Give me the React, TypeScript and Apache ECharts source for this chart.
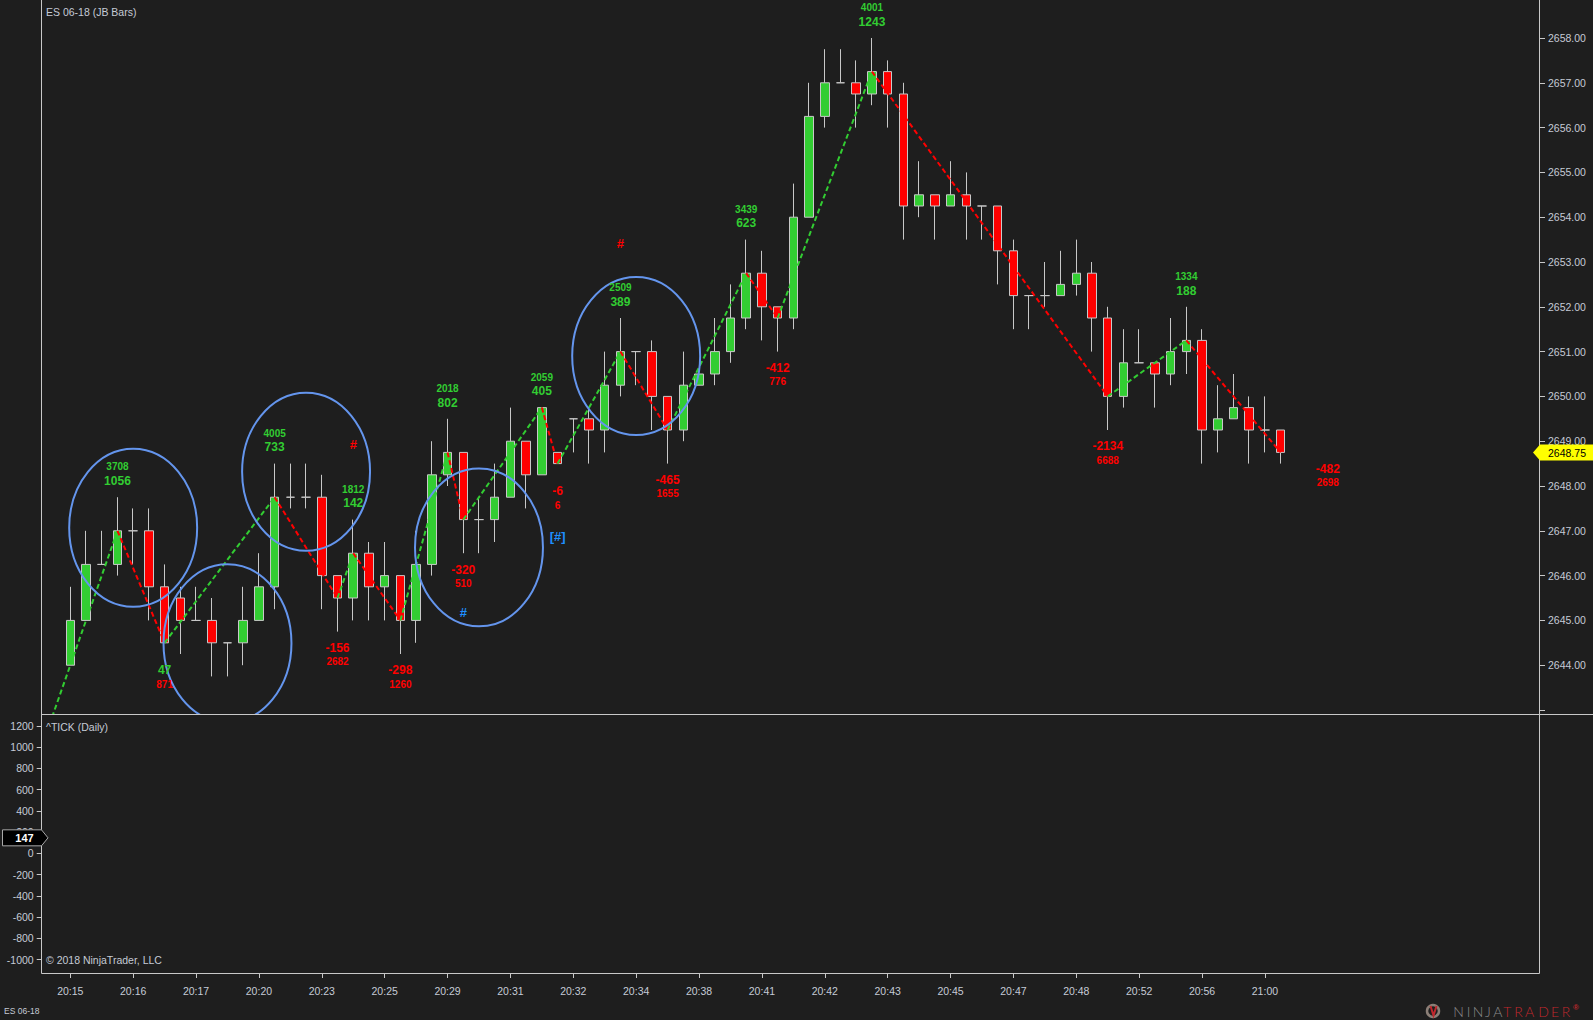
import React, { useEffect, useRef } from 'react';
import * as echarts from 'echarts';

// ---------- data ----------
const timeLabels = ['20:15', '20:16', '20:17', '20:20', '20:23', '20:25', '20:29', '20:31', '20:32', '20:34',
  '20:38', '20:41', '20:42', '20:43', '20:45', '20:47', '20:48', '20:52', '20:56', '21:00'];

const opens = [2644, 2645, 2646.25, 2646.25, 2647, 2647, 2645.75, 2645.5, 2645, 2645,
  2644.5, 2644.5, 2645, 2645.75, 2647.75, 2647.75, 2647.75, 2646, 2645.5, 2646.5,
  2645.75, 2646, 2645, 2646.25, 2648.25, 2648.75, 2647.25, 2647.25, 2647.75, 2649,
  2648.25, 2648.75, 2649.5, 2649.5, 2649.25, 2650.25, 2651, 2651, 2650, 2649.25,
  2650.25, 2650.5, 2651, 2651.75, 2652.75, 2652, 2651.75, 2654, 2656.25, 2657,
  2657, 2656.75, 2657.25, 2656.75, 2654.25, 2654.5, 2654.25, 2654.5, 2654.25, 2654.25,
  2653.25, 2652.25, 2652.25, 2652.25, 2652.5, 2652.75, 2651.75, 2650, 2650.75, 2650.75,
  2650.5, 2651, 2651.25, 2649.25, 2649.5, 2649.75, 2649.25, 2649.25];
const highs = [2645.75, 2647, 2647, 2647.75, 2647.5, 2647.5, 2646.25, 2645.75, 2645.75, 2645.5,
  2644.5, 2645.75, 2646.5, 2648.5, 2648.5, 2648.5, 2648.25, 2646, 2647.25, 2646.75,
  2646.75, 2646, 2647, 2649, 2649.5, 2648.75, 2647.75, 2648.5, 2649.75, 2649,
  2649.75, 2648.75, 2649.5, 2649.75, 2651, 2651.75, 2651, 2651.25, 2650, 2651,
  2650.5, 2651.75, 2652.5, 2653.5, 2653.25, 2652, 2654.75, 2657, 2657.75, 2657.75,
  2657.5, 2658, 2657.5, 2657, 2655.25, 2654.5, 2655.25, 2655, 2654.25, 2654.25,
  2653.5, 2652.25, 2653, 2653.25, 2653.5, 2653, 2652, 2651.5, 2651.5, 2650.75,
  2651.75, 2652, 2651.5, 2650.25, 2650.5, 2650, 2650, 2649.25];
const lows = [2644, 2645, 2646.25, 2646, 2646.25, 2645, 2644.5, 2644.25, 2645, 2643.75,
  2643.75, 2644, 2645, 2645.25, 2647.5, 2647.5, 2645.25, 2644.75, 2645, 2645,
  2645, 2644.25, 2644.5, 2646, 2648, 2646.5, 2646.5, 2646.75, 2647.75, 2647.5,
  2648.25, 2648.5, 2648.75, 2648.5, 2648.75, 2650, 2650.25, 2649.25, 2648.5, 2649,
  2650.25, 2650.25, 2650.75, 2651.5, 2651.25, 2651, 2651.5, 2654, 2656, 2657,
  2656, 2656.5, 2656, 2653.5, 2654, 2653.5, 2654.25, 2653.5, 2653.5, 2652.5,
  2651.5, 2651.5, 2652, 2652.25, 2652.25, 2651, 2649.25, 2649.75, 2650.75, 2649.75,
  2650.25, 2650.5, 2648.5, 2648.75, 2649.5, 2648.5, 2648.75, 2648.5];
const closes = [2645, 2646.25, 2646.25, 2647, 2647, 2645.75, 2644.5, 2645, 2645, 2644.5,
  2644.5, 2645, 2645.75, 2647.75, 2647.75, 2647.75, 2646, 2645.5, 2646.5, 2645.75,
  2646, 2645, 2646.25, 2648.25, 2648.75, 2647.25, 2647.25, 2647.75, 2649, 2648.25,
  2649.75, 2648.5, 2649.5, 2649.25, 2650.25, 2651, 2651, 2650, 2649.25, 2650.25,
  2650.5, 2651, 2651.75, 2652.75, 2652, 2651.75, 2654, 2656.25, 2657, 2657,
  2656.75, 2657.25, 2656.75, 2654.25, 2654.5, 2654.25, 2654.5, 2654.25, 2654.25, 2653.25,
  2652.25, 2652.25, 2652.25, 2652.5, 2652.75, 2651.75, 2650, 2650.75, 2650.75, 2650.5,
  2651, 2651.25, 2649.25, 2649.5, 2649.75, 2649.25, 2649.25, 2648.75];

// zigzag swing points (bar index); prices are the swing bars' closes
const zigzagBars = [-2, 3, 6, 13, 17, 18, 21, 24, 25, 30, 31, 35, 38, 43, 45, 51, 66, 71, 77];
const zigzagStartPrice = 2642.0;

const swingHighBars = [3, 13, 18, 24, 30, 35, 43, 51, 71];
const swingHighSmall = [3708, 4005, 1812, 2018, 2059, 2509, 3439, 4001, 1334];
const swingHighBig = [1056, 733, 142, 802, 405, 389, 623, 1243, 188];

const swingLowBars = [6, 17, 21, 25, 31, 38, 45, 66];
const swingLowBig = [47, -156, -298, -320, -6, -465, -412, -2134];
const swingLowSmall = [871, 2682, 1260, 510, 6, 1655, 776, 6688];

const pendingBar = 80;
const pendingBig = -482;
const pendingSmall = 2698;

const hashBars = [18, 25, 31, 35];
const hashPrices = [2648.92, 2645.17, 2646.88, 2653.41];
const hashTexts = ['#', '#', '[#]', '#'];
const hashKinds = ['red', 'blue', 'blue', 'red'];

const ellipseBars = [4, 10, 15, 26, 36];
const ellipsePrices = [2647.07, 2644.49, 2648.32, 2646.63, 2650.9];
const ELLIPSE_RX_BARS = 4.07;
const ELLIPSE_RY_POINTS = 1.763;

const priceTickValues = [2643, 2644, 2645, 2646, 2647, 2648, 2649, 2650, 2651, 2652, 2653, 2654, 2655, 2656, 2657, 2658];
const priceLabelValues = [2644, 2645, 2646, 2647, 2648, 2649, 2650, 2651, 2652, 2653, 2654, 2655, 2656, 2657, 2658];
const tickAxisValues = [-1000, -800, -600, -400, -200, 0, 200, 400, 600, 800, 1000, 1200];
const tickIndicatorValue = 147;

// ---------- styling ----------
const BG = '#1e1e1e';
const AXIS_TEXT = '#c5cbd6';
const BORDER = '#c8c8c8';
const GREEN = '#32cd32';
const RED = '#ff0000';
const OUTLINE = '#c8c8c8';
const ELLIPSE = '#6495ed';
const BLUE_HASH = '#1e90ff';
const FONT = '"Liberation Sans", Arial, sans-serif';

const LEAD = 2;
const CATEGORY_COUNT = 96;
const categories = Array.from({ length: CATEGORY_COUNT }, (_, c) => {
  const b = c - LEAD;
  return b >= 0 && b % 4 === 0 && b / 4 < timeLabels.length ? timeLabels[b / 4] : '';
});

const candleData = opens.map((o, i) => [i + LEAD, o, closes[i], lows[i], highs[i]]);
const zigzagPoints = zigzagBars.map((b) => [b + LEAD, b < 0 ? zigzagStartPrice : closes[b]]);
const lastClose = closes[closes.length - 1];

const labelData = [
  ...swingHighBars.map((b, k) => [b + LEAD, Math.max(...highs.slice(Math.max(0, b - 1), b + 2)), swingHighBig[k], swingHighSmall[k], 1]),
  ...swingLowBars.map((b, k) => [b + LEAD, Math.min(...lows.slice(Math.max(0, b - 1), b + 2)), swingLowBig[k], swingLowSmall[k], -1]),
  [pendingBar + LEAD, lastClose, pendingBig, pendingSmall, -1],
];
const hashData = hashBars.map((b, k) => [b + LEAD, hashPrices[k], k]);
const ellipseData = ellipseBars.map((b, k) => [b + LEAD, ellipsePrices[k]]);

const showCat = (_i: number, v: string) => v !== '';

function txt(text: string, x: number, y: number, fill: string, font: string, align = 'center', vAlign = 'middle') {
  return {
    type: 'text', x, y,
    style: { text, fill, font, align, verticalAlign: vAlign, textAlign: align, textVerticalAlign: vAlign },
  };
}

function buildOption(): any {
  const zigzagSeries = [] as any[];
  for (let k = 0; k < zigzagPoints.length - 1; k++) {
    const a = zigzagPoints[k];
    const b = zigzagPoints[k + 1];
    zigzagSeries.push({
      type: 'line', xAxisIndex: 0, yAxisIndex: 0, data: [a, b], symbol: 'none', silent: true, z: 3,
      lineStyle: { color: b[1] > a[1] ? GREEN : RED, width: 2, type: [5, 3] },
    });
  }
  return {
    backgroundColor: BG,
    animation: false,
    grid: [
      { left: 31, right: 53, top: 0, height: 714 },
      { left: 31, right: 53, top: 715, height: 258 },
    ],
    xAxis: [
      { type: 'category', gridIndex: 0, data: categories, boundaryGap: true, show: false },
      {
        type: 'category', gridIndex: 1, data: categories, boundaryGap: true, position: 'bottom',
        axisLine: { show: false, onZero: false },
        axisTick: { show: true, length: 5, interval: showCat, alignWithLabel: true, lineStyle: { color: BORDER } },
        axisLabel: { interval: showCat, color: AXIS_TEXT, fontSize: 10.5, fontFamily: FONT, margin: 12 },
        splitLine: { show: false },
      },
    ],
    yAxis: [
      {
        type: 'value', gridIndex: 0, position: 'right', min: 2642.911, max: 2658.848, scale: true,
        axisLine: { show: false },
        axisTick: { show: true, length: 5, customValues: priceTickValues, lineStyle: { color: BORDER } },
        axisLabel: { customValues: priceLabelValues, color: AXIS_TEXT, fontSize: 10.5, fontFamily: FONT, margin: 8,
          formatter: (v: number) => v.toFixed(2) },
        splitLine: { show: false },
      },
      {
        type: 'value', gridIndex: 1, position: 'left', offset: -10.7, min: -1125.6, max: 1303.5,
        axisLine: { show: false },
        axisTick: { show: true, length: 5, customValues: tickAxisValues, lineStyle: { color: BORDER } },
        axisLabel: { customValues: tickAxisValues, color: AXIS_TEXT, fontSize: 10.5, fontFamily: FONT, margin: 8,
          formatter: (v: number) => String(v) },
        splitLine: { show: false },
      },
    ],
    series: [
      {
        type: 'candlestick', xAxisIndex: 0, yAxisIndex: 0, data: candleData,
        encode: { x: 0, y: [1, 2, 3, 4] }, barWidth: 9, z: 2, silent: true,
        itemStyle: {
          color: GREEN, color0: RED, borderColor: OUTLINE, borderColor0: OUTLINE,
          borderColorDoji: OUTLINE, borderWidth: 1,
        },
      },
      ...zigzagSeries,
      {
        type: 'custom', xAxisIndex: 0, yAxisIndex: 0, data: ellipseData, clip: true, z: 4, silent: true,
        renderItem: (_p: any, api: any) => {
          const c = api.coord([api.value(0), api.value(1)]);
          const bw = api.size([1, 0], [api.value(0), api.value(1)])[0];
          const ry = api.size([0, ELLIPSE_RY_POINTS], [api.value(0), api.value(1)])[1];
          return {
            type: 'ellipse',
            shape: { cx: c[0], cy: c[1], rx: ELLIPSE_RX_BARS * bw, ry },
            style: { fill: 'none', stroke: ELLIPSE, lineWidth: 2 },
          };
        },
      },
      {
        type: 'custom', xAxisIndex: 0, yAxisIndex: 0, data: labelData, clip: false, z: 5, silent: true,
        renderItem: (_p: any, api: any) => {
          const p = api.coord([api.value(0), api.value(1)]);
          const big = api.value(2);
          const small = api.value(3);
          const dir = api.value(4);
          const bigFont = `bold 12px ${FONT}`;
          const smallFont = `bold 10px ${FONT}`;
          if (dir > 0) {
            return {
              type: 'group', children: [
                txt(String(small), p[0], p[1] - 30.5, GREEN, smallFont),
                txt(String(big), p[0], p[1] - 16.3, GREEN, bigFont),
              ],
            };
          }
          return {
            type: 'group', children: [
              txt(String(big), p[0], p[1] + 16.3, big > 0 ? GREEN : RED, bigFont),
              txt(String(small), p[0], p[1] + 30.2, RED, smallFont),
            ],
          };
        },
      },
      {
        type: 'custom', xAxisIndex: 0, yAxisIndex: 0, data: hashData, clip: false, z: 5, silent: true,
        renderItem: (_p: any, api: any) => {
          const p = api.coord([api.value(0), api.value(1)]);
          const k = api.value(2);
          return txt(hashTexts[k], p[0], p[1], hashKinds[k] === 'red' ? RED : BLUE_HASH, `bold 13px ${FONT}`);
        },
      },
    ],
  };
}

function buildGraphic(yPrice: number, yTick: number): any[] {
  const uiFont = `10.5px ${FONT}`;
  const line = (x1: number, y1: number, x2: number, y2: number) => ({
    type: 'line', z: 50, silent: true, shape: { x1, y1, x2, y2 }, style: { stroke: BORDER, lineWidth: 1 },
  });
  const ninja = [['N', 1453.3], ['I', 1466.7], ['N', 1472.7], ['J', 1485], ['A', 1493.3]];
  const trader = [['T', 1503.3], ['R', 1514.3], ['A', 1525], ['D', 1538.3], ['E', 1551], ['R', 1561.7]];
  const logoFont = `300 14px Lato, "Open Sans", sans-serif`;
  return [
    line(41.5, 0, 41.5, 973.5),
    line(1539.5, 0, 1539.5, 973.5),
    line(41.5, 714.5, 1593, 714.5),
    line(41.5, 973.5, 1539.5, 973.5),
    { ...txt('ES 06-18 (JB Bars)', 46, 11.5, AXIS_TEXT, uiFont, 'left'), z: 60 },
    { ...txt('^TICK (Daily)', 46, 726.5, AXIS_TEXT, uiFont, 'left'), z: 60 },
    { ...txt('\u00a9 2018 NinjaTrader, LLC', 46, 959.5, AXIS_TEXT, uiFont, 'left'), z: 60 },
    { ...txt('ES 06-18', 4, 1010.5, AXIS_TEXT, `8.5px ${FONT}`, 'left'), z: 60 },
    // last price marker
    {
      type: 'polygon', z: 70, silent: true,
      shape: { points: [[1533, yPrice], [1540, yPrice - 8], [1593, yPrice - 8], [1593, yPrice + 8], [1540, yPrice + 8]] },
      style: { fill: '#ffff00' },
    },
    { ...txt(lastClose.toFixed(2), 1567, yPrice + 0.5, '#000000', uiFont), z: 71 },
    // TICK indicator marker
    {
      type: 'polygon', z: 70, silent: true,
      shape: { points: [[2.5, yTick - 8], [41.5, yTick - 8], [48, yTick], [41.5, yTick + 8], [2.5, yTick + 8]] },
      style: { fill: '#000000', stroke: '#a8a8a8', lineWidth: 1 },
    },
    { ...txt(String(tickIndicatorValue), 24.5, yTick + 0.5, '#ffffff', `bold 11px ${FONT}`), z: 71 },
    // logo
    {
      type: 'circle', z: 60, silent: true, shape: { cx: 1433, cy: 1011, r: 6 },
      style: { fill: 'none', stroke: '#8b7f77', lineWidth: 2.5 },
    },
    {
      type: 'polyline', z: 61, silent: true, shape: { points: [[1430.5, 1006], [1433.5, 1015.5], [1436.5, 1006]] },
      style: { stroke: '#c0282d', lineWidth: 2, fill: 'none' },
    },
    ...ninja.map(([ch, x]) => ({ ...txt(ch as string, x as number, 1011.5, '#8c8c8c', logoFont, 'left'), z: 60 })),
    ...trader.map(([ch, x]) => ({ ...txt(ch as string, x as number, 1011.5, '#c0282d', logoFont, 'left'), z: 60 })),
    { ...txt('\u00ae', 1573, 1007, '#c0282d', `bold 8px ${FONT}`, 'left'), z: 60 },
  ];
}

export default function App() {
  const ref = useRef<HTMLDivElement>(null);
  useEffect(() => {
    document.body.style.margin = '0';
    document.body.style.background = BG;
    const chart = echarts.init(ref.current as HTMLDivElement, null, { renderer: 'svg' });
    chart.setOption(buildOption());
    const yPrice = chart.convertToPixel({ yAxisIndex: 0 }, lastClose) as unknown as number;
    const yTick = chart.convertToPixel({ yAxisIndex: 1 }, tickIndicatorValue) as unknown as number;
    chart.setOption({ graphic: buildGraphic(yPrice, yTick) });
    return () => chart.dispose();
  }, []);
  return <div ref={ref} style={{ position: 'absolute', left: 0, top: 0, width: 1593, height: 1020 }} />;
}
